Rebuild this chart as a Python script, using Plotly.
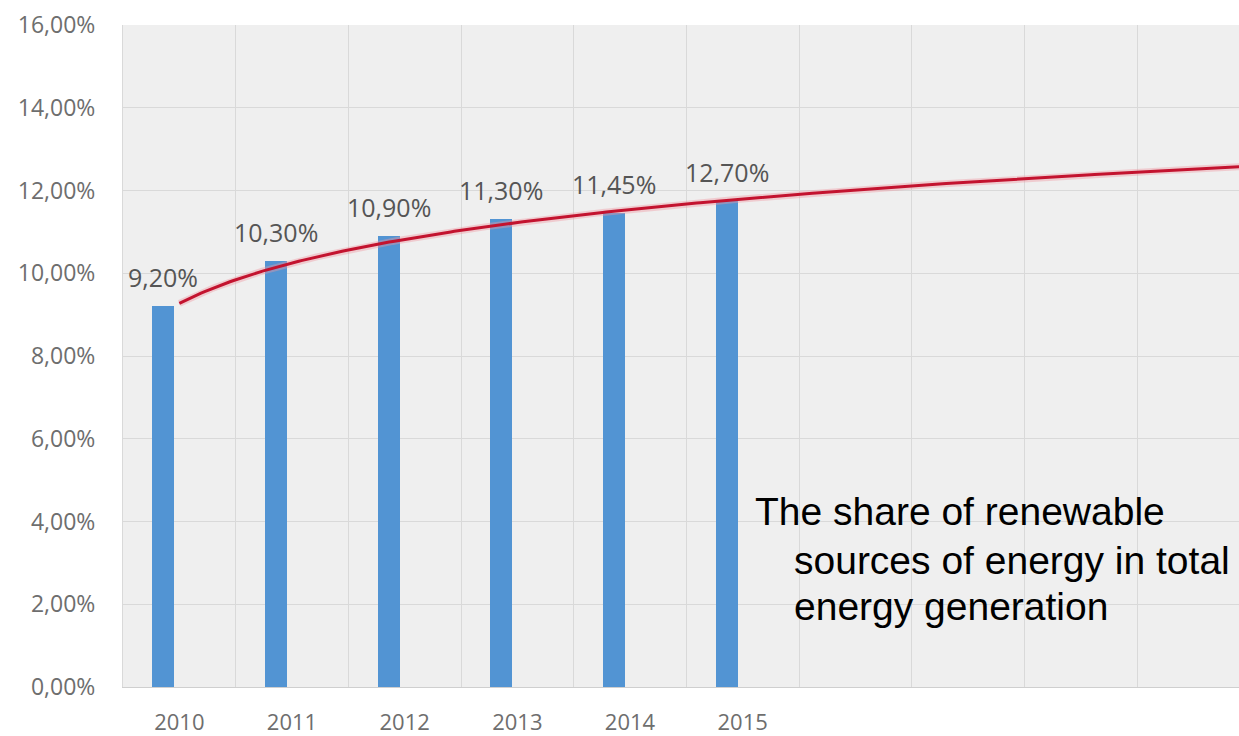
import numpy as np
import plotly.graph_objects as go

# ---- data ----
years = ["2010", "2011", "2012", "2013", "2014", "2015"]
share_values = [9.20, 10.30, 10.90, 11.30, 11.45, 11.75]          # bar heights, %
label_texts = ["9,20%", "10,30%", "10,90%", "11,30%", "11,45%", "12,70%"]
y_ticks = [0, 2, 4, 6, 8, 10, 12, 14, 16]
y_tick_text = ["0,00%", "2,00%", "4,00%", "6,00%", "8,00%", "10,00%", "12,00%", "14,00%", "16,00%"]
note_lines = ["The share of renewable",
              "sources of energy in total",
              "energy generation"]

# category positions 1..n
xpos = np.arange(1, len(years) + 1)

# Excel-style logarithmic trendline fitted on the bar values, extended forward
a, b = np.polyfit(np.log(xpos), np.array(share_values), 1)
x_trend = np.linspace(1, 10.6, 300)
y_trend = a * np.log(x_trend) + b

GRID = "#d9d9d9"
BAR = "#5294d3"
TREND = "#c3132f"

fig = go.Figure()
fig.add_trace(go.Bar(
    x=xpos, y=share_values, width=0.195, offset=-0.24,
    marker=dict(color=BAR, line=dict(width=0)),
    showlegend=False, hoverinfo="skip",
))
fig.add_trace(go.Scatter(
    x=x_trend, y=y_trend, mode="lines",
    line=dict(color="rgba(240,150,160,0.40)", width=7),
    showlegend=False, hoverinfo="skip",
))
fig.add_trace(go.Scatter(
    x=x_trend, y=y_trend, mode="lines",
    line=dict(color=TREND, width=3),
    showlegend=False, hoverinfo="skip",
))

# data labels above bars
for xi, v, t in zip(xpos, share_values, label_texts):
    fig.add_annotation(
        x=xi - 0.142, y=v, text=t, showarrow=False,
        yshift=29, xanchor="center", yanchor="middle",
        font=dict(family="Open Sans", size=25, color="#555555"),
    )

# descriptive note
note_x = [753, 792, 792]
note_y = [511, 560, 606]
for txt, nx, ny in zip(note_lines, note_x, note_y):
    fig.add_annotation(
        xref="paper", yref="paper",
        x=(nx - 123) / (1239 - 123), y=(687 - ny) / (687 - 25),
        text=txt, showarrow=False, xanchor="left", yanchor="middle",
        font=dict(family="Liberation Sans, Arial", size=39, color="#000000"),
    )

fig.update_layout(
    width=1239, height=736,
    margin=dict(l=123, r=0, t=25, b=49),
    paper_bgcolor="white",
    plot_bgcolor="#efefef",
    bargap=0,
)
fig.update_xaxes(
    range=[0.5, 10.405], automargin=False,
    tickmode="array", tickvals=xpos, ticktext=years,
    showgrid=False, zeroline=False,
    ticks="outside", ticklen=16, tickcolor="rgba(0,0,0,0)",
    tickfont=dict(family="Open Sans", size=22, color="#6e6e6e"),
    showline=True, linecolor="#cfcfcf", linewidth=1,
    minor=dict(tick0=0.5, dtick=1, showgrid=True, gridcolor=GRID, gridwidth=1, ticks=""),
)
fig.update_yaxes(
    range=[0, 16], automargin=False,
    tickmode="array", tickvals=y_ticks, ticktext=y_tick_text,
    showgrid=True, gridcolor=GRID, gridwidth=1, zeroline=False,
    ticks="outside", ticklen=22, tickcolor="rgba(0,0,0,0)",
    tickfont=dict(family="Open Sans", size=23, color="#6e6e6e"),
    showline=True, linecolor=GRID, linewidth=1,
)

fig.write_html("out.html")
